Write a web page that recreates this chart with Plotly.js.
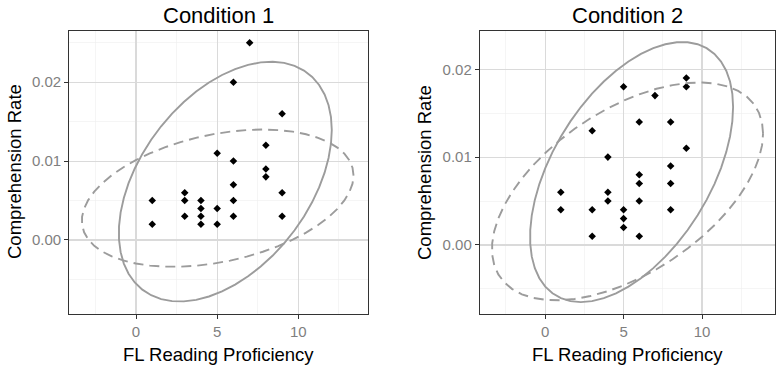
<!DOCTYPE html>
<html><head><meta charset="utf-8">
<script src="https://cdn.plot.ly/plotly-3.0.1.min.js"></script>
<style>html,body{margin:0;padding:0;background:#fff}#chart{width:776px;height:369px}</style>
</head><body><div id="chart"></div>
<script>
// ---- data ----
const cond1X = [1,1, 3,3,3, 4,4,4,4, 5,5,5, 6,6,6,6,6, 7, 8,8,8, 9,9,9];
const cond1Y = [0.005,0.002, 0.006,0.005,0.003, 0.005,0.004,0.003,0.002, 0.011,0.004,0.002, 0.020,0.010,0.007,0.005,0.003, 0.025, 0.012,0.009,0.008, 0.016,0.006,0.003];
const cond2X = [1,1, 3,3,3, 4,4,4, 5,5,5,5, 6,6,6,6,6, 7, 8,8,8,8, 9,9,9];
const cond2Y = [0.006,0.004, 0.013,0.004,0.001, 0.010,0.006,0.005, 0.018,0.004,0.003,0.002, 0.014,0.008,0.007,0.005,0.001, 0.017, 0.014,0.009,0.007,0.004, 0.019,0.018,0.011];
const panelTitles = ["Condition 1", "Condition 2"];
const xAxisTitle = "FL Reading Proficiency";
const yAxisTitle = "Comprehension Rate";
const xTickVals = [0, 5, 10];
const yTickVals = [0, 0.01, 0.02];
const yTickText = ["0.00", "0.01", "0.02"];

// ellipse parameters (index 0 = Condition 1, 1 = Condition 2)
// centre, half-extent along x, half-extent along y, and correlation (tilt)
const solidCenterX = [5.50, 5.51];
const solidCenterY = [0.0074, 0.0083];
const solidHalfX   = [6.56, 6.47];
const solidHalfY   = [0.0152, 0.0148];
const solidRho     = [0.43, 0.50];
const dashCenterX  = [5.03, 5.25];
const dashCenterY  = [0.0053, 0.0061];
const dashHalfX    = [8.37, 8.64];
const dashHalfY    = [0.0087, 0.0124];
const dashRho      = [0.33, 0.53];

// ellipse path (same parametrisation as ggplot2's stat_ellipse: centre + unit circle %*% chol)
function ellipsePath(cx, cy, hx, hy, rho, segments) {
  const ex = [], ey = [];
  const s = Math.sqrt(1 - rho*rho);
  for (let k=0;k<=segments;k++){
    const t = k*2*Math.PI/segments, co = Math.cos(t), si = Math.sin(t);
    ex.push(cx + hx*co);
    ey.push(cy + hy*(rho*co + s*si));
  }
  return {x:ex, y:ey};
}

const ellColor = '#9c9c9c';
function panelTraces(i, xs, ys, xa, ya) {
  const es = ellipsePath(solidCenterX[i], solidCenterY[i], solidHalfX[i], solidHalfY[i], solidRho[i], 51);
  const ed = ellipsePath(dashCenterX[i], dashCenterY[i], dashHalfX[i], dashHalfY[i], dashRho[i], 51);
  return [
    {type:'scatter', mode:'markers', x:xs, y:ys, xaxis:xa, yaxis:ya,
     marker:{symbol:'diamond', size:5.8, color:'#000'}, hoverinfo:'x+y'},
    {type:'scatter', mode:'lines', x:ed.x, y:ed.y, xaxis:xa, yaxis:ya,
     line:{color:ellColor, width:1.9, dash:'10px,6px'}, hoverinfo:'skip'},
    {type:'scatter', mode:'lines', x:es.x, y:es.y, xaxis:xa, yaxis:ya,
     line:{color:ellColor, width:1.9}, hoverinfo:'skip'}
  ];
}

const data = [].concat(panelTraces(0, cond1X, cond1Y, 'x', 'y'), panelTraces(1, cond2X, cond2Y, 'x2', 'y2'));

const font = 'Liberation Sans, Arial, sans-serif';
const W = 776, H = 369;
const yDom = [1 - 313.5/H, 1 - 30.7/H];
function xAxis(dom, rng, anchor) {
  return {domain:dom, range:rng, anchor:anchor, tickvals:xTickVals, ticktext:xTickVals.map(String),
    showgrid:true, gridcolor:'#dadada', gridwidth:1.1, zeroline:false,
    minor:{tick0:-2.5, dtick:5, showgrid:true, gridcolor:'#efefef', gridwidth:0.6, ticks:''},
    showline:true, mirror:true, linecolor:'#333', linewidth:1.2,
    ticks:'outside', ticklen:4, tickwidth:1, tickcolor:'#333',
    tickfont:{family:font, size:15, color:'#7f7f7f'}, fixedrange:true};
}
function yAxis(rng, anchor) {
  return {domain:yDom, range:rng, anchor:anchor, tickvals:yTickVals, ticktext:yTickText,
    showgrid:true, gridcolor:'#dadada', gridwidth:1.1, zeroline:false,
    minor:{tick0:-0.005, dtick:0.01, showgrid:true, gridcolor:'#efefef', gridwidth:0.6, ticks:''},
    showline:true, mirror:true, linecolor:'#333', linewidth:1.2,
    ticks:'outside', ticklen:4, tickwidth:1, tickcolor:'#333',
    tickfont:{family:font, size:15, color:'#7f7f7f'}, fixedrange:true};
}

const layout = {
  width:W, height:H, margin:{l:0,r:0,t:0,b:0}, showlegend:false,
  paper_bgcolor:'#fff', plot_bgcolor:'#fff', font:{family:font},
  xaxis: xAxis([69.3/W, 367.5/W], [-4.11, 14.26], 'y'),
  yaxis: yAxis([-0.00932, 0.02653], 'x'),
  xaxis2: xAxis([480/W, 775/W], [-4.15, 14.65], 'y2'),
  yaxis2: yAxis([-0.0078, 0.02439], 'x2'),
  annotations: [
    {text:panelTitles[0], xref:'paper', yref:'paper', x:218/W, y:1-15/H, showarrow:false, xanchor:'center', yanchor:'middle', font:{family:font, size:22, color:'#000'}},
    {text:panelTitles[1], xref:'paper', yref:'paper', x:627/W, y:1-15/H, showarrow:false, xanchor:'center', yanchor:'middle', font:{family:font, size:22, color:'#000'}},
    {text:xAxisTitle, xref:'paper', yref:'paper', x:218/W, y:1-354/H, showarrow:false, xanchor:'center', yanchor:'middle', font:{family:font, size:18.5, color:'#000'}},
    {text:xAxisTitle, xref:'paper', yref:'paper', x:627/W, y:1-354/H, showarrow:false, xanchor:'center', yanchor:'middle', font:{family:font, size:18.5, color:'#000'}},
    {text:yAxisTitle, xref:'paper', yref:'paper', x:14/W, y:1-172/H, showarrow:false, xanchor:'center', yanchor:'middle', textangle:-90, font:{family:font, size:18.5, color:'#000'}},
    {text:yAxisTitle, xref:'paper', yref:'paper', x:424/W, y:1-172/H, showarrow:false, xanchor:'center', yanchor:'middle', textangle:-90, font:{family:font, size:18.5, color:'#000'}}
  ]
};

Plotly.newPlot('chart', data, layout, {staticPlot:true, displayModeBar:false});
</script>
</body></html>
